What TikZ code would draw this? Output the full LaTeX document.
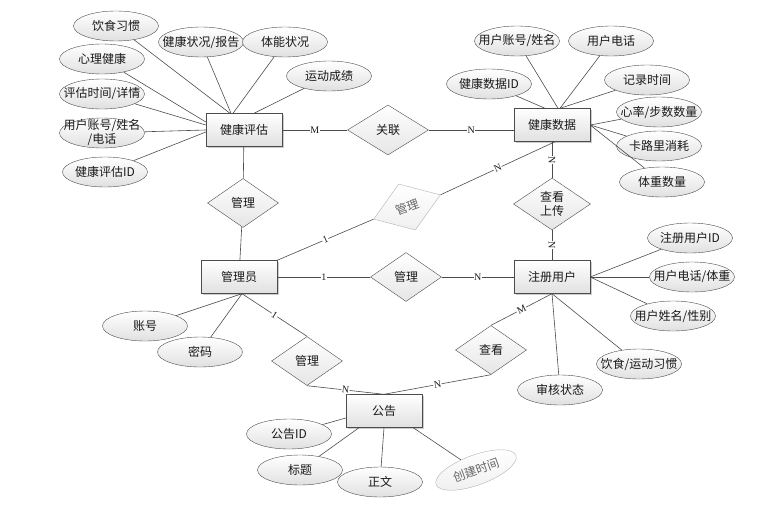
\documentclass[tikz,border=0pt]{standalone}
\usepackage{fontspec}
\setmainfont{Liberation Serif}
\newfontfamily\cjk{Noto Sans CJK SC}
\usetikzlibrary{shapes.geometric,shadows}

\begin{document}
\begin{tikzpicture}[x=1pt,y=-1pt,
        every node/.style={font=\cjk\fontsize{12}{14}\selectfont, text=black!90},
        entity/.style={rectangle, draw=black!70, top color=white, bottom color=black!12,
            minimum width=76pt, minimum height=33pt,
            drop shadow={shadow xshift=1.5pt, shadow yshift=-1.5pt, fill=black!40}},
        rel/.style={diamond, draw=black!70, top color=white, bottom color=black!10,
            inner sep=0pt, minimum width=71pt, minimum height=49pt, align=center},
        attr/.style={ellipse, draw=black!70, top color=white, bottom color=black!12,
            inner xsep=-10pt, inner ysep=-5pt, minimum width=85pt, minimum height=30pt, align=center},
        faded/.style={draw=black!30, text=black!60, bottom color=black!6},
        line/.style={draw=black!70, line width=0.6pt},
        card/.style={font=\rmfamily\fontsize{10}{10}\selectfont, fill=white, inner sep=0.6pt, sloped}]
                \useasboundingbox (0,0) rectangle (775,516);

                % entities
                \node[entity] (jkpg) at (244,130) {健康评估};
                \node[entity] (jksj) at (552,125) {健康数据};
                \node[entity] (gly) at (239,277) {管理员};
                \node[entity] (zcyh) at (552,277) {注册用户};
                \node[entity] (gg) at (384,411) {公告};

                % relationships
                \node[rel, minimum width=81pt, minimum height=50pt] (guanlian) at (388,130) {关联};
                \node[rel] (guanli1) at (243,203) {管理};
                \node[rel, faded, rotate=20] (guanli2) at (407,207) {管理};
                \node[rel] (guanli3) at (406,277) {管理};
                \node[rel, minimum width=77pt, minimum height=52pt] (chakan1) at (552,204) {查看\\上传};
                \node[rel] (guanli4) at (307,361) {管理};
                \node[rel] (chakan2) at (491,350) {查看};

                % attributes of 健康评估
                \node[attr] (ysxg) at (116,26) {饮食习惯};
                \node[attr] (jkzk) at (201,42) {健康状况/报告};
                \node[attr] (tnzk) at (285,42) {体能状况};
                \node[attr] (xljk) at (102,59) {心理健康};
                \node[attr] (ydcj) at (329,76) {运动成绩};
                \node[attr] (pgsj) at (102,94) {评估时间/详情};
                \node[attr] (yhzh) at (102,133) {用户账号/姓名\\/电话};
                \node[attr] (pgid) at (105,172) {健康评估ID};

                % attributes of 健康数据
                \node[attr] (sjzh) at (517,41) {用户账号/姓名};
                \node[attr] (sjdh) at (611,41) {用户电话};
                \node[attr] (sjid) at (489,84) {健康数据ID};
                \node[attr] (jlsj) at (647,80) {记录时间};
                \node[attr] (xl) at (659,112) {心率/步数数量};
                \node[attr] (kll) at (659,146) {卡路里消耗};
                \node[attr] (tz) at (662,182) {体重数量};

                % attributes of 注册用户
                \node[attr] (yhid) at (690,238) {注册用户ID};
                \node[attr] (yhdh) at (692,277) {用户电话/体重};
                \node[attr] (yhxm) at (673,316) {用户姓名/性别};
                \node[attr] (ydxg) at (639,364) {饮食/运动习惯};
                \node[attr] (shzt) at (560,390) {审核状态};

                % attributes of 管理员 and 公告
                \node[attr] (zh) at (145,326) {账号};
                \node[attr] (mm) at (200,352) {密码};
                \node[attr] (ggid) at (289,434) {公告ID};
                \node[attr] (bt) at (300,470) {标题};
                \node[attr] (zw) at (380,482) {正文};
                \node[attr, faded, rotate=20] (cjsj) at (476,470) {创建时间};

                \draw[line] (ysxg) -- ([xshift=-14pt]jkpg.north);
                \draw[line] (jkzk) -- ([xshift=-13pt]jkpg.north);
                \draw[line] (tnzk) -- ([xshift=-11pt]jkpg.north);
                \draw[line] (ydcj) -- ([xshift=10pt]jkpg.north);
                \draw[line] (xljk) -- ([yshift=8pt]jkpg.west);
                \draw[line] (pgsj) -- ([yshift=5pt]jkpg.west);
                \draw[line] (yhzh) -- (jkpg.west);
                \draw[line] (pgid) -- ([yshift=-2pt]jkpg.west);

                \draw[line] (sjid) -- ([xshift=-7pt]jksj.north);
                \draw[line] (sjzh) -- ([xshift=6pt]jksj.north);
                \draw[line] (sjdh) -- ([xshift=8pt]jksj.north);
                \draw[line] (jlsj) -- ([xshift=8pt]jksj.north);
                \draw[line] (xl) -- (jksj.east);
                \draw[line] (kll) -- (jksj.east);
                \draw[line] (tz) -- (jksj.east);

                \draw[line] (yhid) -- (zcyh.east);
                \draw[line] (yhdh) -- (zcyh.east);
                \draw[line] (yhxm) -- (zcyh.east);
                \draw[line] (ydxg) -- (zcyh.south);
                \draw[line] (shzt) -- (zcyh.south);

                \draw[line] (zh) -- ([xshift=3pt]gly.south);
                \draw[line] (mm) -- ([xshift=3pt]gly.south);
                \draw[line] (ggid) -- ([yshift=-7pt]gg.west);
                \draw[line] (bt) -- ([xshift=-25pt]gg.south);
                \draw[line] (zw) -- (gg.south);
                \draw[line] (cjsj) -- ([xshift=-9pt]gg.south east);

                % relationship lines
                \draw[line] (jkpg) -- node[card] {M} (guanlian) -- node[card] {N} (jksj.west |- guanlian);
                \draw[line] (jkpg) -- (guanli1) -- (gly);
                \draw[line] (gly.north east) -- node[card] {1} (guanli2.west);
                \draw[line] (guanli2.east) -- node[card] {N} ([xshift=3pt]jksj.south);
                \draw[line] (gly) -- node[card] {1} (guanli3) -- node[card] {N} (zcyh);
                \draw[line] (jksj) -- node[card] {N} (chakan1) -- node[card] {N} (zcyh);
                \draw[line] ([xshift=3pt]gly.south) -- node[card] {1} (guanli4.north);
                \draw[line] (guanli4.south) -- node[card] {N} (gg.north);
                \draw[line] (zcyh.south) -- node[card] {M} (chakan2.north);
                \draw[line] (chakan2.south) -- node[card] {N} (gg.north);
\end{tikzpicture}
\end{document}
